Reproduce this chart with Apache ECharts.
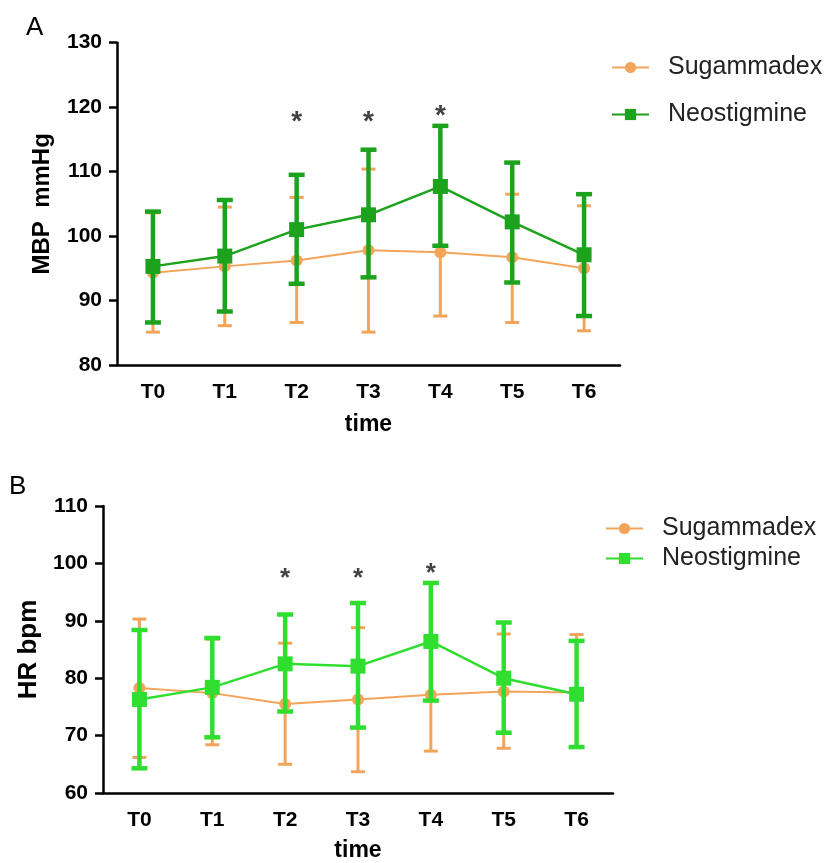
<!DOCTYPE html>
<html>
<head>
<meta charset="utf-8">
<script src="https://cdn.jsdelivr.net/npm/echarts@6/dist/echarts.min.js"></script>
<style>
html,body{margin:0;padding:0;background:#fff;}
#chart{width:833px;height:863px;}
</style>
</head>
<body>
<div id="chart"></div>
<script>
// ---- Data ----
const categories = ['T0','T1','T2','T3','T4','T5','T6'];

// Panel A: MBP (mmHg)
const mbpSugMean  = [94.3, 95.3, 96.2, 97.8, 97.5, 96.7, 95.0];
const mbpSugUpper = [103.6, 104.5, 106.0, 110.4, 107.6, 106.5, 104.7];
const mbpSugLower = [85.1, 86.1, 86.6, 85.1, 87.6, 86.6, 85.3];
const mbpNeoMean  = [95.3, 96.9, 101.0, 103.3, 107.7, 102.2, 97.1];
const mbpNeoUpper = [103.8, 105.6, 109.5, 113.4, 117.1, 111.4, 106.5];
const mbpNeoLower = [86.6, 88.3, 92.6, 93.6, 98.5, 92.8, 87.6];
const mbpStarCats = ['T2','T3','T4'];
const mbpStarVals = [118.8, 118.8, 119.6];
const mbpTicks = {min: 80, max: 130, interval: 10};

// Panel B: HR (bpm)
const hrSugMean  = [78.3, 77.4, 75.5, 76.3, 77.1, 77.7, 77.5];
const hrSugUpper = [90.3, 86.8, 86.1, 88.8, 87.1, 87.7, 87.6];
const hrSugLower = [66.2, 68.4, 65.0, 63.7, 67.3, 67.8, 68.0];
const hrNeoMean  = [76.3, 78.4, 82.5, 82.1, 86.4, 80.0, 77.2];
const hrNeoUpper = [88.4, 87.0, 91.1, 93.1, 96.6, 89.7, 86.5];
const hrNeoLower = [64.3, 69.7, 74.2, 71.4, 76.1, 70.5, 68.0];
const hrStarCats = ['T2','T3','T4'];
const hrStarVals = [98.5, 98.5, 99.4];
const hrTicks = {min: 60, max: 110, interval: 10};

// ---- Styles ----
const ORANGE = '#F2A55A';
const GREEN_A = '#1CA21C';
const GREEN_B = '#30DE30';
const FONT = 'Liberation Sans, Arial, sans-serif';

function errData(lower, upper) {
  return categories.map((c, i) => [i, lower[i], upper[i]]);
}
function errRender(color, lw, capHalf) {
  return function (params, api) {
    const i = api.value(0);
    const lo = api.coord([i, api.value(1)]);
    const hi = api.coord([i, api.value(2)]);
    const st = {stroke: color, lineWidth: lw};
    return {
      type: 'group',
      children: [
        {type: 'line', shape: {x1: lo[0], y1: lo[1], x2: hi[0], y2: hi[1]}, style: st},
        {type: 'line', shape: {x1: lo[0] - capHalf, y1: lo[1], x2: lo[0] + capHalf, y2: lo[1]}, style: st},
        {type: 'line', shape: {x1: hi[0] - capHalf, y1: hi[1], x2: hi[0] + capHalf, y2: hi[1]}, style: st}
      ]
    };
  };
}
function starData(cats, vals) { return cats.map((c, i) => [c, vals[i]]); }

const axisLineStyle = {color: '#000', width: 2.5};
function xAxisCfg(grid, nameGap) {
  return {
    type: 'category', gridIndex: grid, data: categories, boundaryGap: true,
    name: 'time', nameLocation: 'middle', nameGap: nameGap,
    nameTextStyle: {fontFamily: FONT, fontWeight: 'bold', fontSize: 23, color: '#000'},
    axisLine: {lineStyle: axisLineStyle},
    axisTick: {alignWithLabel: true, length: 8, lineStyle: axisLineStyle},
    axisLabel: {fontFamily: FONT, fontWeight: 'bold', fontSize: 21, color: '#000', margin: 17},
    splitLine: {show: false}
  };
}
function yAxisCfg(grid, name, ticks, nameGap, nameSize) {
  return {
    type: 'value', gridIndex: grid, min: ticks.min, max: ticks.max, interval: ticks.interval,
    name: name, nameLocation: 'middle', nameGap: nameGap, nameRotate: 90,
    nameTextStyle: {fontFamily: FONT, fontWeight: 'bold', fontSize: nameSize, color: '#000'},
    axisLine: {show: true, lineStyle: axisLineStyle},
    axisTick: {show: true, length: 8, lineStyle: axisLineStyle},
    axisLabel: {fontFamily: FONT, fontWeight: 'bold', fontSize: 21, color: '#000', margin: 15},
    splitLine: {show: false}
  };
}

const option = {
  backgroundColor: '#fff',
  animation: false,
  graphic: [
    {type: 'text', left: 26, top: 15, style: {text: 'A', font: '26px ' + FONT, fill: '#000'}},
    {type: 'text', left: 9, top: 474, style: {text: 'B', font: '26px ' + FONT, fill: '#000'}}
  ],
  grid: [
    {left: 117, right: 213, top: 42.7, height: 322.3},
    {left: 103, right: 220, top: 506, height: 292.3}
  ],
  legend: [
    {
      orient: 'vertical', left: 611, top: 55, padding: 0, itemWidth: 37, itemHeight: 14, itemGap: 22,
      textStyle: {fontFamily: FONT, fontSize: 25, color: '#222', padding: [0, 0, 0, 14]},
      data: [
        {name: 'Sugammadex'},
        {name: 'Neostigmine'}
      ]
    },
    {
      orient: 'vertical', left: 605, top: 516, padding: 0, itemWidth: 37, itemHeight: 14, itemGap: 5,
      textStyle: {fontFamily: FONT, fontSize: 25, color: '#222', padding: [0, 0, 0, 14]},
      data: [
        {name: 'Sugammadex', itemStyle: {color: ORANGE}, lineStyle: {color: ORANGE}},
        {name: 'Neostigmine', itemStyle: {color: GREEN_B}, lineStyle: {color: GREEN_B}}
      ]
    }
  ],
  xAxis: [xAxisCfg(0, 48), xAxisCfg(1, 46)],
  yAxis: [yAxisCfg(0, 'MBP  mmHg', mbpTicks, 63, 24), yAxisCfg(1, 'HR bpm', hrTicks, 57, 26)],
  series: [
    // Panel A lines
    {name: 'Sugammadex', type: 'line', xAxisIndex: 0, yAxisIndex: 0, data: mbpSugMean, z: 3,
     symbol: 'circle', symbolSize: 12, itemStyle: {color: ORANGE}, lineStyle: {color: ORANGE, width: 2}},
    {name: 'Neostigmine', type: 'line', xAxisIndex: 0, yAxisIndex: 0, data: mbpNeoMean, z: 5,
     symbol: 'rect', symbolSize: 15, itemStyle: {color: GREEN_A}, lineStyle: {color: GREEN_A, width: 2.5}},
    // Panel B lines
    {name: 'Sugammadex', type: 'line', xAxisIndex: 1, yAxisIndex: 1, data: hrSugMean, z: 3,
     symbol: 'circle', symbolSize: 12, itemStyle: {color: ORANGE}, lineStyle: {color: ORANGE, width: 2}},
    {name: 'Neostigmine', type: 'line', xAxisIndex: 1, yAxisIndex: 1, data: hrNeoMean, z: 5,
     symbol: 'rect', symbolSize: 15, itemStyle: {color: GREEN_B}, lineStyle: {color: GREEN_B, width: 2.5}},
    // Error bars
    {name: 'mbpSugErr', type: 'custom', xAxisIndex: 0, yAxisIndex: 0, z: 2, silent: true,
     renderItem: errRender(ORANGE, 3, 7), encode: {x: 0, y: [1, 2]}, data: errData(mbpSugLower, mbpSugUpper)},
    {name: 'mbpNeoErr', type: 'custom', xAxisIndex: 0, yAxisIndex: 0, z: 4, silent: true,
     renderItem: errRender(GREEN_A, 4.5, 8), encode: {x: 0, y: [1, 2]}, data: errData(mbpNeoLower, mbpNeoUpper)},
    {name: 'hrSugErr', type: 'custom', xAxisIndex: 1, yAxisIndex: 1, z: 2, silent: true,
     renderItem: errRender(ORANGE, 3, 7), encode: {x: 0, y: [1, 2]}, data: errData(hrSugLower, hrSugUpper)},
    {name: 'hrNeoErr', type: 'custom', xAxisIndex: 1, yAxisIndex: 1, z: 4, silent: true,
     renderItem: errRender(GREEN_B, 4.5, 8), encode: {x: 0, y: [1, 2]}, data: errData(hrNeoLower, hrNeoUpper)},
    // Significance asterisks
    {name: 'mbpStars', type: 'scatter', xAxisIndex: 0, yAxisIndex: 0, symbolSize: 1, itemStyle: {color: 'rgba(0,0,0,0)'},
     silent: true, data: starData(mbpStarCats, mbpStarVals),
     label: {show: true, position: 'inside', formatter: '*', fontFamily: FONT, fontWeight: 'bold', fontSize: 28, color: '#111', offset: [0, 7]}},
    {name: 'hrStars', type: 'scatter', xAxisIndex: 1, yAxisIndex: 1, symbolSize: 1, itemStyle: {color: 'rgba(0,0,0,0)'},
     silent: true, data: starData(hrStarCats, hrStarVals),
     label: {show: true, position: 'inside', formatter: '*', fontFamily: FONT, fontWeight: 'bold', fontSize: 26, color: '#111', offset: [0, 7]}}
  ]
};

const chart = echarts.init(document.getElementById('chart'), null, {renderer: 'canvas'});
chart.setOption(option);
</script>
</body>
</html>
